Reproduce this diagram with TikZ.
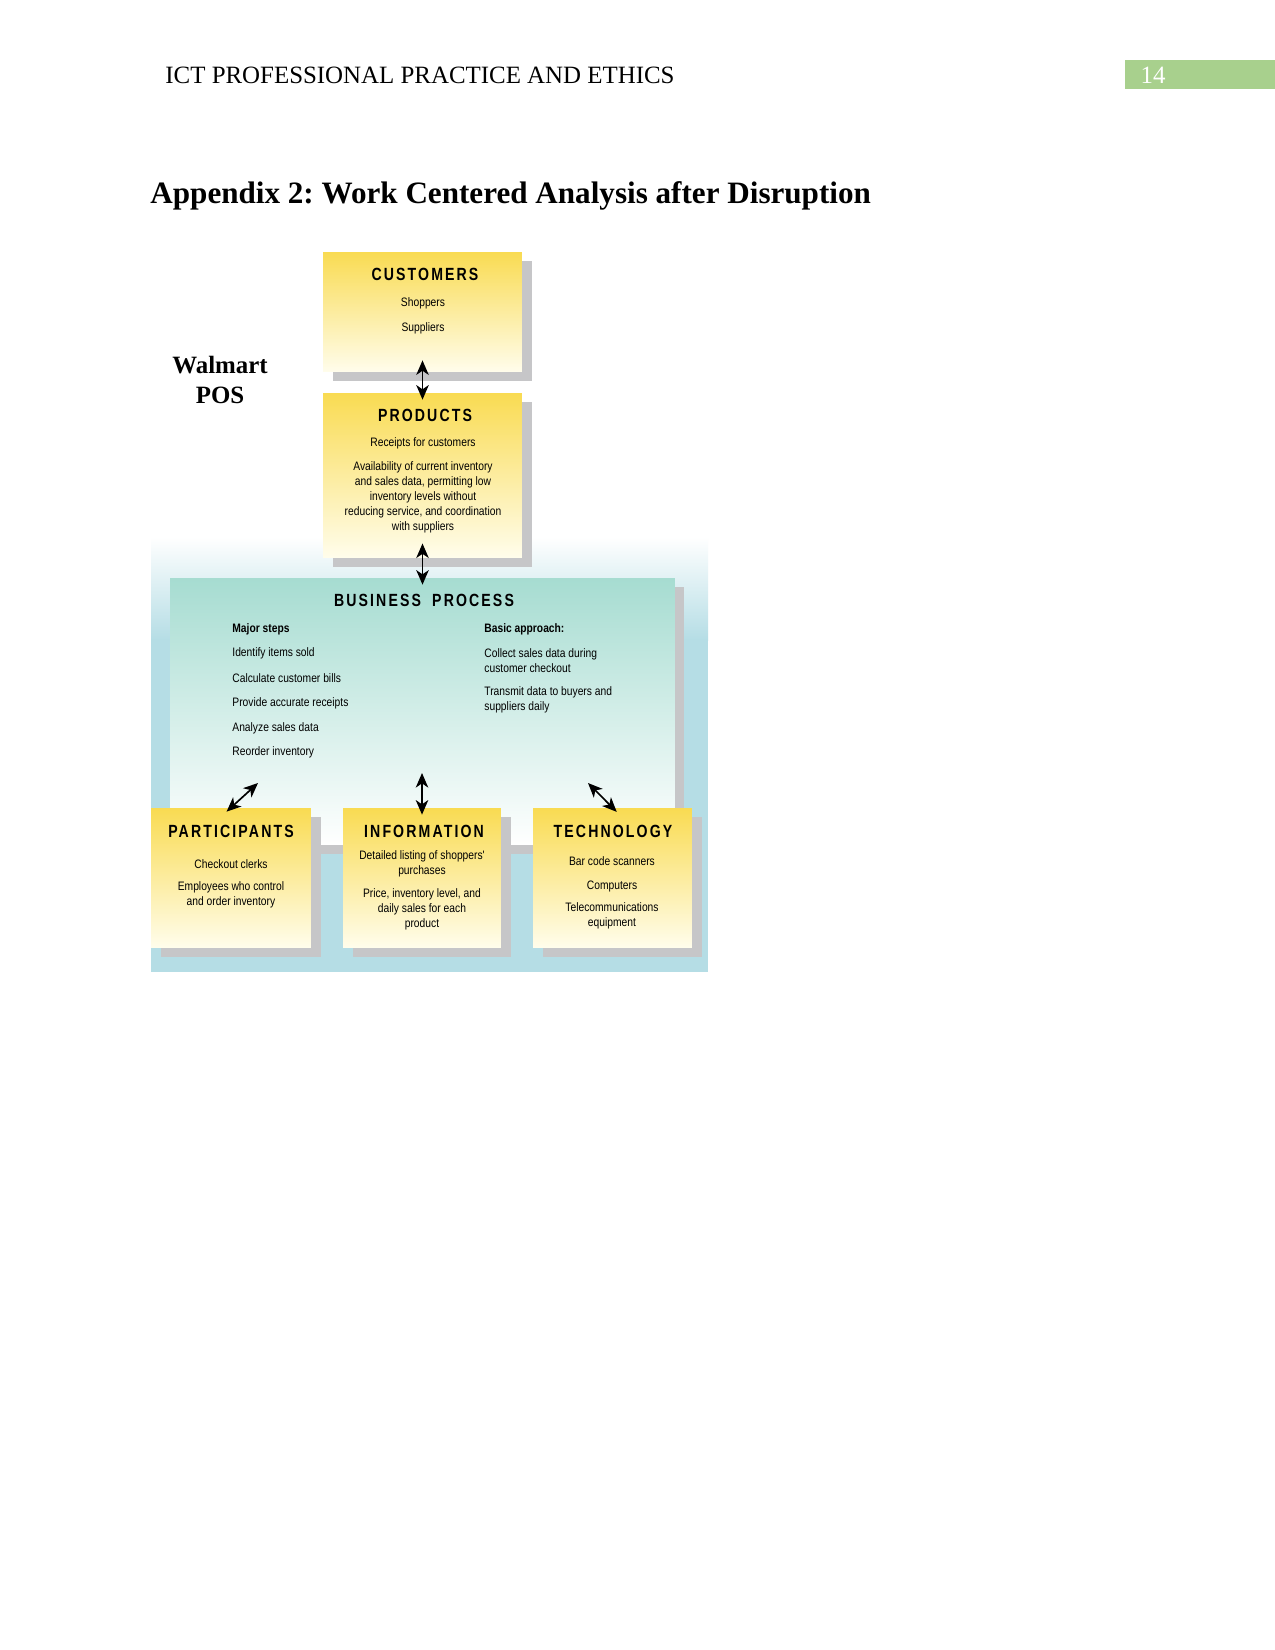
\documentclass[tikz,border=0pt]{standalone}
\usepackage{fontspec}
\setmainfont{Liberation Serif}
\newfontfamily\boxfont[FakeStretch=0.84]{Liberation Sans}
\newfontfamily\headfont[FakeStretch=0.8,LetterSpace=12]{Liberation Sans}
\usepackage{tikz}
\usetikzlibrary{arrows.meta,positioning,shadows}
\frenchspacing

\definecolor{pagegreen}{RGB}{168,208,141}
\definecolor{boxyellow}{RGB}{249,219,82}
\definecolor{boxcream}{RGB}{255,253,236}
\definecolor{bpteal}{RGB}{166,220,209}
\definecolor{skyblue}{RGB}{181,221,229}
\definecolor{shadowgray}{RGB}{198,198,200}

\def\px{0.4818pt}

\tikzset{
  ybox/.style={rectangle, inner sep=0pt, top color=boxyellow, bottom color=boxcream,
    drop shadow={fill=shadowgray, opacity=1, shadow xshift=4.6pt, shadow yshift=-4.4pt}},
  bpbox/.style={rectangle, inner sep=0pt, top color=bpteal, bottom color=white,
    drop shadow={fill=shadowgray, opacity=1, shadow xshift=4.4pt, shadow yshift=-4.4pt}},
  boxtitle/.style={font=\headfont\bfseries\fontsize{8.5}{10}\selectfont, inner sep=0pt},
  boxtext/.style={font=\boxfont\fontsize{5.9}{7.2}\selectfont, align=center, inner sep=0pt},
  bptext/.style={font=\boxfont\fontsize{5.9}{7.2}\selectfont, align=left, anchor=west, inner sep=0pt},
  dblarrow/.style={{Stealth[length=7pt,width=6pt,inset=2pt]}-{Stealth[length=7pt,width=6pt,inset=2pt]}, line width=0.8pt, black},
}

\begin{document}
\begin{tikzpicture}[x=0.0169333cm, y=-0.0169333cm]
  \useasboundingbox (0,0) rectangle (1275,1650);
  \fill[white] (0,0) rectangle (1275,1650);

  \node[anchor=base west, font=\fontsize{12}{14}\selectfont, inner sep=0pt] (runhead) at (165,83) {ICT PROFESSIONAL PRACTICE AND ETHICS};
  \node[fill=pagegreen, minimum width=150*\px, minimum height=29*\px, inner sep=0pt] (pagebox) at (1200,74.5) {};
  \node[font=\fontsize{12}{14}\selectfont, text=white, inner sep=0pt] (pagenum) at (1153,75) {14};
  \node[anchor=base west, font=\bfseries\fontsize{15}{18}\selectfont, inner sep=0pt] (apptitle) at (150,203) {Appendix 2: Work Centered Analysis after Disruption};

  \node[align=center, font=\bfseries\fontsize{12}{14}\selectfont, inner sep=0pt] (walmart) at (220,380) {Walmart\\POS};

  \shade[top color=white, bottom color=skyblue] (151,537) rectangle (708,640);
  \fill[skyblue] (151,639) rectangle (708,972);

  \node[bpbox, minimum width=505*\px, minimum height=267*\px] (bp) at (422.5,711.5) {};
  \node[ybox, minimum width=199*\px, minimum height=120*\px] (cust) at (422.5,312) {};
  \node[ybox, minimum width=199*\px, minimum height=165*\px] (prod) at (422.5,475.5) {};
  \node[ybox, minimum width=160*\px, minimum height=140*\px] (part) at (231,878) {};
  \node[ybox, minimum width=158*\px, minimum height=140*\px] (info) at (422,878) {};
  \node[ybox, minimum width=159*\px, minimum height=140*\px] (tech) at (612.5,878) {};

  \node[boxtitle] (custT) at (425,274) {CUSTOMERS};
  \node[boxtext] (custA) at (423,303) {Shoppers};
  \node[boxtext] (custB) at (423,328) {Suppliers};

  \node[boxtitle] (prodT) at (425,415) {PRODUCTS};
  \node[boxtext] (prodA) at (423,443) {Receipts for customers};
  \node[boxtext] (prodB) at (423,497) {Availability of current inventory\\and sales data, permitting low\\inventory levels without\\reducing service, and coordination\\with suppliers};

  \node[boxtitle] (bpT) at (424,600) {BUSINESS\hspace{2.5pt} PROCESS};
  \node[bptext, font=\boxfont\bfseries\fontsize{5.9}{7.2}\selectfont] (stepsT) at (232,629) {Major steps};
  \node[bptext] (stepA) at (232,653) {Identify items sold};
  \node[bptext] (stepB) at (232,678) {Calculate customer bills};
  \node[bptext] (stepC) at (232,703) {Provide accurate receipts};
  \node[bptext] (stepD) at (232,728) {Analyze sales data};
  \node[bptext] (stepE) at (232,752) {Reorder inventory};
  \node[bptext, font=\boxfont\bfseries\fontsize{5.9}{7.2}\selectfont] (apprT) at (484,629) {Basic approach:};
  \node[bptext] (apprA) at (484,660.5) {Collect sales data during\\customer checkout};
  \node[bptext] (apprB) at (484,699.5) {Transmit data to buyers and\\suppliers daily};

  \node[boxtitle] (partT) at (231,831) {PARTICIPANTS};
  \node[boxtext] (partA) at (231,864) {Checkout clerks};
  \node[boxtext] (partB) at (231,894.5) {Employees who control\\and order inventory};

  \node[boxtitle] (infoT) at (424,831) {INFORMATION};
  \node[boxtext] (infoA) at (422,864) {Detailed listing of shoppers'\\purchases};
  \node[boxtext] (infoB) at (422,909) {Price, inventory level, and\\daily sales for each\\product};

  \node[boxtitle] (techT) at (613,831) {TECHNOLOGY};
  \node[boxtext] (techA) at (612,861) {Bar code scanners};
  \node[boxtext] (techB) at (612,886) {Computers};
  \node[boxtext] (techC) at (612,916) {Telecommunications\\equipment};

  \coordinate (bpP) at (258,783);
  \coordinate (bpI) at (422,773);
  \coordinate (bpR) at (588,783);

  \draw[dblarrow, shorten <=-5.8pt, shorten >=-3.4pt] (cust.south) -- (prod.north);
  \draw[dblarrow, shorten <=-7.2pt, shorten >=-3.4pt] (prod.south) -- (bp.north);
  \draw[dblarrow, shorten >=-2.9pt] (bpP) -- (part.north);
  \draw[dblarrow, shorten >=-3.4pt] (bpI) -- (info.north);
  \draw[dblarrow, shorten >=-2.9pt] (bpR) -- (tech.north);
\end{tikzpicture}
\end{document}
